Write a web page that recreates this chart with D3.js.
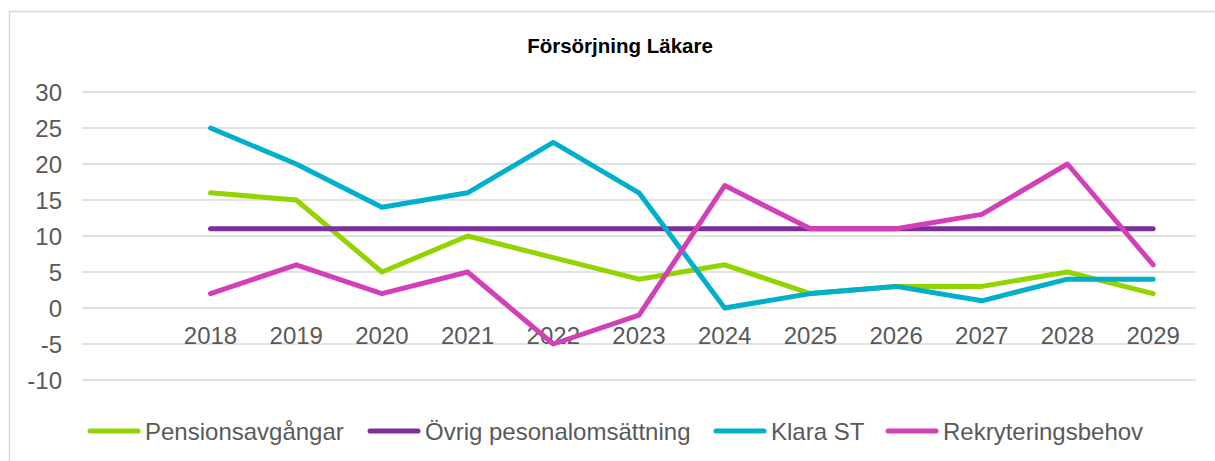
<!DOCTYPE html>
<html>
<head>
<meta charset="utf-8">
<script src="https://cdn.jsdelivr.net/npm/d3@7"></script>
<style>
  body { margin: 0; background: #fff; }
  text { font-family: "Liberation Sans", Arial, sans-serif; }
</style>
</head>
<body>
<div id="chart"></div>
<script>
    // data; first category is an empty slot
    var years = ["", "2018", "2019", "2020", "2021", "2022", "2023", "2024", "2025", "2026", "2027", "2028", "2029"];
    var pension = [null, 16, 15, 5, 10, 7, 4, 6, 2, 3, 3, 5, 2];
    var ovrig = [null, 11, 11, 11, 11, 11, 11, 11, 11, 11, 11, 11, 11];
    var klaraST = [null, 25, 20, 14, 16, 23, 16, 0, 2, 3, 1, 4, 4];
    var rekrytering = [null, 2, 6, 2, 5, -5, -1, 17, 11, 11, 13, 20, 6];
    var yTicks = [-10, -5, 0, 5, 10, 15, 20, 25, 30];
    var seriesNames = ["Pensionsavgångar", "Övrig pesonalomsättning", "Klara ST", "Rekryteringsbehov"];
    var seriesColors = ["#92d400", "#7a2f9a", "#00afc9", "#d33fb6"];
    var title = "Försörjning Läkare";

    var width = 1215, height = 461;
    var svg = d3.select("#chart").append("svg")
        .attr("width", width)
        .attr("height", height);

    // outer chart border
    svg.append("rect")
        .attr("x", 9.5).attr("y", 11.5)
        .attr("width", 1215).attr("height", 470)
        .attr("fill", "#fff")
        .attr("stroke", "#d9d9d9")
        .attr("stroke-width", 1.5);

    svg.append("text")
        .attr("x", 620).attr("y", 45)
        .attr("text-anchor", "middle")
        .attr("dominant-baseline", "central")
        .attr("font-size", 20.5)
        .attr("font-weight", "bold")
        .attr("fill", "#000")
        .text(title);

    var plot = {left: 82, right: 1196, top: 92, bottom: 380};

    var x = d3.scaleBand()
        .domain(years.map(function(d, i) { return i; }))
        .range([plot.left, plot.right]);
    var y = d3.scaleLinear()
        .domain([-10, 30])
        .range([plot.bottom, plot.top]);

    // gridlines
    svg.append("g")
        .selectAll("line")
        .data(yTicks)
        .enter().append("line")
          .attr("x1", plot.left).attr("x2", plot.right)
          .attr("y1", function(d) { return y(d); })
          .attr("y2", function(d) { return y(d); })
          .attr("stroke", "#d9d9d9")
          .attr("stroke-width", 1.5);

    // y labels
    svg.append("g")
        .selectAll("text")
        .data(yTicks)
        .enter().append("text")
          .attr("x", 62)
          .attr("y", function(d) { return y(d); })
          .attr("text-anchor", "end")
          .attr("dominant-baseline", "central")
          .attr("font-size", 24)
          .attr("fill", "#595959")
          .text(function(d) { return d; });

    // x labels under the zero line
    svg.append("g")
        .selectAll("text")
        .data(years)
        .enter().append("text")
          .attr("x", function(d, i) { return x(i) + x.bandwidth() / 2; })
          .attr("y", y(0) + 27)
          .attr("text-anchor", "middle")
          .attr("dominant-baseline", "central")
          .attr("font-size", 24)
          .attr("fill", "#595959")
          .text(function(d) { return d; });

    var line = d3.line()
        .defined(function(d) { return d != null; })
        .x(function(d, i) { return x(i) + x.bandwidth() / 2; })
        .y(function(d) { return y(d); });

    var allSeries = [pension, ovrig, klaraST, rekrytering];
    svg.append("g")
        .selectAll("path")
        .data(allSeries)
        .enter().append("path")
          .attr("d", line)
          .attr("fill", "none")
          .attr("stroke", function(d, i) { return seriesColors[i]; })
          .attr("stroke-width", 5)
          .attr("stroke-linejoin", "round")
          .attr("stroke-linecap", "round");

    // legend
    var legendX = [88, 368, 714, 886];
    var legend = svg.append("g")
        .selectAll("g")
        .data(seriesNames)
        .enter().append("g")
          .attr("transform", function(d, i) { return "translate(" + legendX[i] + ",431)"; });
    legend.append("line")
        .attr("x1", 2).attr("x2", 50)
        .attr("stroke", function(d, i) { return seriesColors[i]; })
        .attr("stroke-width", 5)
        .attr("stroke-linecap", "round");
    legend.append("text")
        .attr("x", 57)
        .attr("dominant-baseline", "central")
        .attr("font-size", 24)
        .attr("fill", "#595959")
        .text(function(d) { return d; });
</script>
</body>
</html>
